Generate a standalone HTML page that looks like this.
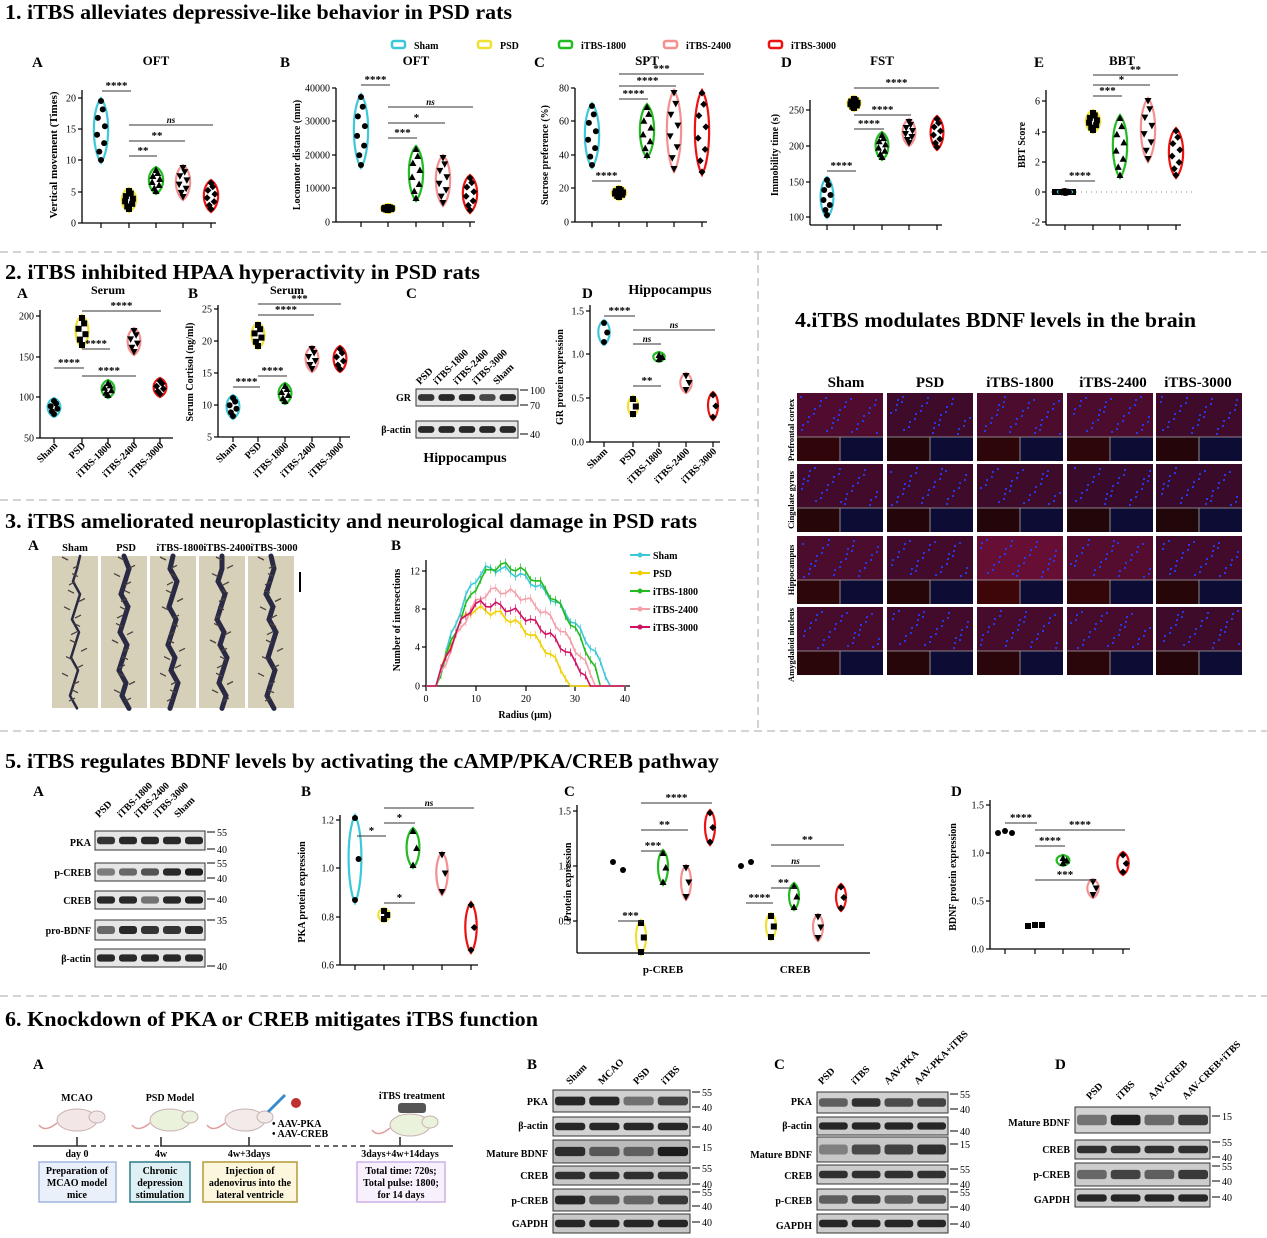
<!DOCTYPE html>
<html><head><meta charset="utf-8">
<style>
html,body{margin:0;padding:0;background:#fff;}
svg{display:block;font-family:"Liberation Serif",serif;}
.h{font-weight:bold;font-size:21.5px;}
.L{font-weight:bold;font-size:15px;}
.t{font-weight:bold;font-size:13px;}
.s{font-size:10px;font-weight:bold;}
.tk{font-size:10px;}
</style></head>
<body>
<svg id="s" xmlns="http://www.w3.org/2000/svg" width="1267" height="1238" viewBox="0 0 1267 1238">
<rect width="1267" height="1238" fill="#fff"/>
<g stroke="#bbb" stroke-width="1.3" stroke-dasharray="8,5" fill="none">
<line x1="0" y1="252" x2="1267" y2="252"/>
<line x1="0" y1="500" x2="758" y2="500"/>
<line x1="758" y1="252" x2="758" y2="730"/>
<line x1="0" y1="731" x2="1267" y2="731"/>
<line x1="0" y1="996" x2="1267" y2="996"/>
</g>
<text class="h" x="5" y="19" textLength="507" lengthAdjust="spacingAndGlyphs">1. iTBS alleviates depressive-like behavior in PSD rats</text>
<text class="h" x="5" y="279" textLength="475" lengthAdjust="spacingAndGlyphs">2.  iTBS inhibited HPAA hyperactivity in PSD rats</text>
<text class="h" x="5" y="528" textLength="692" lengthAdjust="spacingAndGlyphs">3.  iTBS ameliorated neuroplasticity and neurological damage in PSD rats</text>
<text class="h" x="795" y="327" textLength="401" lengthAdjust="spacingAndGlyphs">4.iTBS modulates BDNF levels in the brain</text>
<text class="h" x="5" y="768" textLength="714" lengthAdjust="spacingAndGlyphs">5. iTBS regulates BDNF levels by activating the cAMP/PKA/CREB pathway</text>
<text class="h" x="5" y="1026" textLength="533" lengthAdjust="spacingAndGlyphs">6. Knockdown of PKA or CREB mitigates iTBS function</text>

<g class="s">
<rect x="392" y="41" width="13" height="7" rx="2" fill="none" stroke="#3cc8d8" stroke-width="2.5"/><text x="414" y="49">Sham</text>
<rect x="478" y="41" width="13" height="7" rx="2" fill="none" stroke="#f0e030" stroke-width="2.5"/><text x="500" y="49">PSD</text>
<rect x="559" y="41" width="13" height="7" rx="2" fill="none" stroke="#22bb22" stroke-width="2.5"/><text x="581" y="49">iTBS-1800</text>
<rect x="664" y="41" width="13" height="7" rx="2" fill="none" stroke="#f49090" stroke-width="2.5"/><text x="686" y="49">iTBS-2400</text>
<rect x="769" y="41" width="13" height="7" rx="2" fill="none" stroke="#ee1111" stroke-width="2.5"/><text x="791" y="49">iTBS-3000</text>
</g>
<g class="L">
<text x="32" y="67">A</text><text x="280" y="67">B</text><text x="534" y="67">C</text><text x="781" y="67">D</text><text x="1034" y="67">E</text>
<text x="17" y="298">A</text><text x="188" y="298">B</text><text x="406" y="298">C</text><text x="582" y="298">D</text>
<text x="28" y="550">A</text><text x="391" y="550">B</text>
<text x="33" y="796">A</text><text x="301" y="796">B</text><text x="564" y="796">C</text><text x="951" y="796">D</text>
<text x="33" y="1069">A</text><text x="527" y="1069">B</text><text x="774" y="1069">C</text><text x="1055" y="1069">D</text>
</g>
<g class="t" text-anchor="middle">
<text x="156" y="65">OFT</text><text x="416" y="65">OFT</text><text x="647" y="65">SPT</text><text x="882" y="65">FST</text><text x="1122" y="65">BBT</text>
<text x="108" y="294" style="font-size:12px">Serum</text><text x="287" y="294" style="font-size:12px">Serum</text>
<text x="670" y="294" style="font-size:14px">Hippocampus</text>
<text x="465" y="462" style="font-size:14px">Hippocampus</text>
<text x="525" y="718" style="font-size:10px">Radius (μm)</text>
</g>
<g class="t" text-anchor="middle" font-size="11">
<text transform="translate(57,155) rotate(-90)" style="font-size:11px">Vertical movement (Times)</text>
<text transform="translate(300,155) rotate(-90)" style="font-size:10px">Locomotor distance (mm)</text>
<text transform="translate(548,155) rotate(-90)" style="font-size:10px">Sucrose preference (%)</text>
<text transform="translate(778,155) rotate(-90)" style="font-size:10px">Immobility time (s)</text>
<text transform="translate(1025,145) rotate(-90)" style="font-size:10px">BBT Score</text>
<text transform="translate(193,372) rotate(-90)" style="font-size:10px">Serum Cortisol (ng/ml)</text>
<text transform="translate(563,377) rotate(-90)" style="font-size:10px">GR protein expression</text>
<text transform="translate(400,620) rotate(-90)" style="font-size:10px">Number of intersections</text>
<text transform="translate(305,892) rotate(-90)" style="font-size:10px">PKA protein expression</text>
<text transform="translate(571,882) rotate(-90)" style="font-size:10px">Protein expression</text>
<text transform="translate(956,877) rotate(-90)" style="font-size:10px">BDNF protein expression</text>
<text x="663" y="973" style="font-size:11px">p-CREB</text><text x="795" y="973" style="font-size:11px">CREB</text>
</g>
<g class="s" font-size="10">
<text x="653" y="559">Sham</text><text x="653" y="577">PSD</text><text x="653" y="595">iTBS-1800</text><text x="653" y="613">iTBS-2400</text><text x="653" y="631">iTBS-3000</text>
</g>
<g text-anchor="middle" font-weight="bold" font-size="10" style="font-size:10.5px">
<text x="75" y="551">Sham</text><text x="126" y="551">PSD</text><text x="180" y="551">iTBS-1800</text><text x="227" y="551">iTBS-2400</text><text x="274" y="551">iTBS-3000</text>
</g>
<g class="t" text-anchor="middle" style="font-size:15px">
<text x="846" y="387">Sham</text><text x="930" y="387">PSD</text><text x="1020" y="387">iTBS-1800</text><text x="1113" y="387">iTBS-2400</text><text x="1198" y="387">iTBS-3000</text>
</g>
<g font-weight="bold" text-anchor="middle" font-size="8.5">
<text transform="translate(794,430) rotate(-90)">Prefrontal cortex</text>
<text transform="translate(794,500) rotate(-90)">Cingulate gyrus</text>
<text transform="translate(794,570) rotate(-90)">Hippocampus</text>
<text transform="translate(794,645) rotate(-90)">Amygdaloid nucleus</text>
</g>
<g stroke="#333" stroke-width="1.6">
<line x1="33" y1="1146" x2="82" y2="1146"/><line x1="82" y1="1146" x2="160" y2="1146" stroke-dasharray="5,4"/>
<line x1="160" y1="1146" x2="306" y2="1146"/><line x1="306" y1="1146" x2="370" y2="1146" stroke-dasharray="5,4"/>
<line x1="370" y1="1146" x2="453" y2="1146"/>
<line x1="77" y1="1137" x2="77" y2="1146"/><line x1="161" y1="1137" x2="161" y2="1146"/><line x1="249" y1="1137" x2="249" y2="1146"/><line x1="400" y1="1137" x2="400" y2="1146"/>
</g>
<rect x="39" y="1162" width="77" height="40" fill="#eaf0fa" stroke="#9fb6e0" stroke-width="1.5"/>
<rect x="130" y="1162" width="60" height="40" fill="#dff0f4" stroke="#2b7e8a" stroke-width="1.5"/>
<rect x="203" y="1162" width="94" height="40" fill="#fbf6dc" stroke="#b49a3a" stroke-width="1.5"/>
<rect x="357" y="1162" width="88" height="40" fill="#f8f0fc" stroke="#cdb0e6" stroke-width="1.5"/>
<g class="s" text-anchor="middle" font-size="10">
<text x="77" y="1101">MCAO</text><text x="170" y="1101">PSD Model</text><text x="412" y="1099">iTBS treatment</text>
<text x="77" y="1157">day 0</text><text x="161" y="1157">4w</text><text x="249" y="1157">4w+3days</text><text x="400" y="1157">3days+4w+14days</text>
<text x="77" y="1174">Preparation of</text><text x="77" y="1186">MCAO model</text><text x="77" y="1198">mice</text>
<text x="160" y="1174">Chronic</text><text x="160" y="1186">depression</text><text x="160" y="1198">stimulation</text>
<text x="250" y="1174">Injection of</text><text x="250" y="1186">adenovirus into the</text><text x="250" y="1198">lateral ventricle</text>
<text x="401" y="1174">Total time: 720s;</text><text x="401" y="1186">Total pulse: 1800;</text><text x="401" y="1198">for 14 days</text>
<text x="272" y="1127" text-anchor="start">•  AAV-PKA</text><text x="272" y="1137" text-anchor="start">•  AAV-CREB</text>
</g>
<g id="dyn"></g>
</svg>
<script>
const ns="http://www.w3.org/2000/svg",G=document.getElementById('dyn');
function el(t,a,txt){const e=document.createElementNS(ns,t);for(const k in a)e.setAttribute(k,a[k]);if(txt!==undefined)e.textContent=txt;G.appendChild(e);return e;}
const C={sham:"#3cc8d8",psd:"#f0e030",a:"#22bb22",b:"#f49090",c:"#ee1111"};
const cols=[C.sham,C.psd,C.a,C.b,C.c];
function axis(x,yT,yB,ticks,xEnd,xt,bottom){
  el('line',{x1:x,y1:yT,x2:x,y2:bottom||yB,stroke:"#000","stroke-width":1.3});
  ticks.forEach(([y,l])=>{el('line',{x1:x-4,y1:y,x2:x,y2:y,stroke:"#000","stroke-width":1.2});
    el('text',{x:x-6,y:y+3.5,"text-anchor":"end","font-size":10},l);});
  const yb=bottom||yB;
  el('line',{x1:x,y1:yb,x2:xEnd,y2:yb,stroke:"#000","stroke-width":1.3});
  xt.forEach(t=>el('line',{x1:t,y1:yb,x2:t,y2:yb+5,stroke:"#000","stroke-width":1.2}));
}
function violin(cx,y1,y2,w,c,mk,n){
  const h=y2-y1;
  el('path',{d:`M${cx},${y1} C${cx+w},${y1+h*0.2} ${cx+w*0.9},${y1+h*0.8} ${cx},${y2} C${cx-w*0.9},${y1+h*0.8} ${cx-w},${y1+h*0.2} ${cx},${y1}Z`,fill:"none",stroke:c,"stroke-width":2.2});
  n=n||8;
  for(let i=0;i<n;i++){const y=y1+3+(h-6)*i/(n-1);const dx=(i%2?1:-1)*w*0.4*Math.sin(Math.PI*i/(n-1));
    mark(cx+dx,y,mk);}
}
function mark(x,y,mk){
  if(mk==0) el('circle',{cx:x,cy:y,r:3,fill:"#000"});
  else if(mk==1) el('rect',{x:x-3,y:y-3,width:6,height:6,fill:"#000"});
  else if(mk==2) el('path',{d:`M${x},${y-3.5} L${x+3.5},${y+3} L${x-3.5},${y+3}Z`,fill:"#000"});
  else if(mk==3) el('path',{d:`M${x},${y+3.5} L${x+3.5},${y-3} L${x-3.5},${y-3}Z`,fill:"#000"});
  else el('path',{d:`M${x},${y-3.5} L${x+3.5},${y} L${x},${y+3.5} L${x-3.5},${y}Z`,fill:"#000"});
}
function sig(x1,x2,y,t){el('line',{x1,y1:y,x2,y2:y,stroke:"#333","stroke-width":1});
  el('text',{x:(x1+x2)/2,y:y-2,"text-anchor":"middle","font-size":t=="ns"?9:11,"font-style":t=="ns"?"italic":"normal","font-weight":"bold"},t);}
function vset(xs,spans,w,n){spans.forEach((s,i)=>violin(xs[i],s[0],s[1],w,cols[i],i,n));}

let xs=[101,129,156,183,211];
axis(82,98,223,[[223,"0"],[192,"5"],[160,"10"],[129,"15"],[98,"20"]],216,xs);
el('line',{x1:82,y1:90,x2:82,y2:98,stroke:"#000","stroke-width":1.3});
vset(xs,[[98,163],[188,212],[167,194],[165,200],[180,212]],10);
sig(102,131,91,"****");sig(129,213,125,"ns");sig(129,185,141,"**");sig(129,157,156,"**");
xs=[361,388,416,443,470];
axis(336,88,222,[[222,"0"],[188,"10000"],[155,"20000"],[121,"30000"],[88,"40000"]],475,xs);
vset(xs,[[94,168],[204,213],[146,201],[155,206],[175,213]],10);
sig(361,390,85,"****");sig(388,473,107,"ns");sig(388,445,123,"*");sig(388,417,138,"***");
xs=[592,619,647,674,702];
axis(575,88,222,[[222,"0"],[188,"20"],[155,"40"],[121,"60"],[88,"80"]],707,xs);
vset(xs,[[103,168],[186,200],[104,158],[90,172],[90,175]],10);
sig(592,621,181,"****");sig(619,648,99,"****");sig(619,676,86,"****");sig(619,704,74,"***");
xs=[827,854,882,909,937];
axis(810,100,225,[[217,"100"],[182,"150"],[146,"200"],[110,"250"]],942,xs);
vset(xs,[[177,218],[96,111],[132,160],[119,146],[116,150]],9);
sig(827,856,171,"****");sig(854,884,129,"****");sig(854,911,115,"****");sig(854,939,88,"****");
xs=[1065,1093,1120,1148,1176];
axis(1046,90,225,[[222,"-2"],[192,"0"],[162,"2"],[132,"4"],[101,"6"]],1181,xs);
el('line',{x1:1046,y1:192,x2:1195,y2:192,stroke:"#888","stroke-dasharray":"1,4"});
el('rect',{x:1052,y:189,width:24,height:6,fill:"#000"});
vset(xs,[[190,194],[110,133],[115,178],[98,162],[128,178]],10);
sig(1065,1095,181,"****");sig(1093,1122,96,"***");sig(1093,1150,85,"*");sig(1093,1178,75,"**");

xs=[54,82,108,134,160];
axis(40,310,438,[[316,"200"],[357,"150"],[397,"100"],[438,"50"]],173,xs);
vset(xs,[[398,417],[315,348],[380,398],[328,355],[378,397]],9,6);
sig(54,84,368,"****");sig(82,110,349,"****");sig(82,136,376,"****");sig(82,161,311,"****");
xs=[233,258,285,312,340];
axis(218,305,437,[[309,"25"],[341,"20"],[373,"15"],[405,"10"],[437,"5"]],350,xs);
vset(xs,[[395,419],[322,349],[383,404],[346,372],[346,372]],9,6);
sig(233,260,387,"****");sig(258,287,376,"****");sig(258,314,315,"****");sig(258,341,304,"***");
[[[54,82,108,134,160],446],[[233,258,285,312,340],446],[[604,633,659,686,713],452]].forEach(([a,y])=>{
 ["Sham","PSD","iTBS-1800","iTBS-2400","iTBS-3000"].forEach((l,i)=>el('text',{transform:`translate(${a[i]+4},${y}) rotate(-45)`,"text-anchor":"end","font-size":10,"font-weight":"bold"},l));});
xs=[604,633,659,686,713];
axis(590,305,442,[[311,"1.5"],[354,"1.0"],[398,"0.5"],[442,"0.0"]],720,xs);
violin(604,320,345,8,C.sham,0,3);violin(633,396,417,7,C.psd,1,3);violin(659,352,362,8,C.a,2,3);violin(686,373,393,8,C.b,3,3);violin(713,392,420,7,C.c,4,3);
sig(604,635,316,"****");sig(633,661,344,"ns");sig(633,715,330,"ns");sig(633,661,386,"**");

function blot(x,y,w,h,n,ints,bg){
  el('rect',{x,y,width:w,height:h,fill:bg||"#e6e6e6",stroke:"#333","stroke-width":1});
  const bw=w/n;
  for(let i=0;i<n;i++){const v=ints[i%ints.length];
   el('rect',{x:x+bw*i+2,y:y+h*0.3,width:bw-4,height:h*0.4,rx:3,fill:`rgba(20,20,20,${v})`});}
}
function lbls(x,arr){arr.forEach(([y,t])=>el('text',{x,y,"text-anchor":"end","font-size":10,"font-weight":"bold"},t));}
function mks(x,arr){arr.forEach(([y,t])=>{el('line',{x1:x,y1:y,x2:x+8,y2:y,stroke:"#000"});el('text',{x:x+10,y:y+4,"font-size":10},t);});}
function colL(xs,y,arr){arr.forEach((t,i)=>el('text',{transform:`translate(${xs[i]},${y}) rotate(-45)`,"font-size":10,"font-weight":"bold"},t));}
colL([420,437,457,476,497],385,["PSD","iTBS-1800","iTBS-2400","iTBS-3000","Sham"]);
blot(416,389,102,17,5,[0.85,0.9,0.9,0.75,0.9]);blot(416,421,102,17,5,[0.9]);
lbls(411,[[401,"GR"],[433,"β-actin"]]);mks(520,[[390,"100"],[405,"70"],[434,"40"]]);

[52,101,150,199,248].forEach((x,i)=>{
 el('rect',{x,y:556,width:46,height:152,fill:"#d6d0b8"});
 let d=`M${x+23+(i==0?5:0)},556`;for(let k=1;k<=12;k++)d+=` L${x+18+((k*7+i*3)%11)},${556+k*12.7}`;
 el('path',{d,stroke:"#2a2a44","stroke-width":i==0?2.5:5,fill:"none","stroke-linecap":"round"});
 for(let k=0;k<18;k++){const yy=560+k*8.3,xx=x+16+((k*5+i*7)%14);el('line',{x1:xx,y1:yy,x2:xx+(k%2?6:-6),y2:yy-3,stroke:"#4a4040","stroke-width":1.3});}
});
el('line',{x1:300,y1:572,x2:300,y2:592,stroke:"#000","stroke-width":2});
axis(426,560,686,[[686,"0"],[647,"4"],[609,"8"],[571,"12"]],630,[426,476,526,575,625]);
[[426,"0"],[476,"10"],[526,"20"],[575,"30"],[625,"40"]].forEach(([x,t])=>el('text',{x,y:702,"text-anchor":"middle","font-size":10},t));
const curves=[[C.sham,12.3,13,37],["#f0d000",8,10,29],[C.a,12.6,15,35],["#f4a0a8",10,14,34],["#d01060",8.6,11,33]];
curves.forEach(([c,pk,pr,end])=>{let d="";
 for(let r=0;r<=40;r+=1){let v;if(r<2)v=0;else if(r<=pr)v=pk*Math.sin((r-2)/(pr-2)*Math.PI/2);else if(r<end)v=pk*Math.pow(Math.cos((r-pr)/(end-pr)*Math.PI/2),0.8);else v=0;
  v+=(r>2&&r<end)?0.4*Math.sin(r*1.7+pk):0;if(v<0)v=0;
  const X=426+r*4.98,Y=686-v*9.55;d+=(d?" L":"M")+X+","+Y;
  if(v>0) el('line',{x1:X,y1:Y-4,x2:X,y2:Y+4,stroke:c,"stroke-width":0.7});}
 el('path',{d,fill:"none",stroke:c,"stroke-width":1.6});});
curves.forEach(([c],i)=>{el('line',{x1:630,y1:555+i*18,x2:650,y2:555+i*18,stroke:c,"stroke-width":2});el('circle',{cx:640,cy:555+i*18,r:2.5,fill:c});});

const cx4=[797,887,977,1067,1156],ry4=[393,464,536,607];
const tint=[[0.55,0.35,0.5,0.5,0.35],[0.4,0.35,0.35,0.3,0.3],[0.5,0.4,0.8,0.6,0.4],[0.45,0.4,0.45,0.45,0.35]];
ry4.forEach((y,r)=>cx4.forEach((x,c)=>{
 const t=tint[r][c];
 el('rect',{x,y,width:86,height:68,fill:`rgb(${Math.round(30+t*90)},${Math.round(8+t*8)},${Math.round(35+t*20)})`});
 el('rect',{x,y:y+44,width:43,height:24,fill:`rgb(${Math.round(15+t*60)},6,10)`});
 el('rect',{x:x+43,y:y+44,width:43,height:24,fill:"#0c0c34"});
 el('line',{x1:x,y1:y+44,x2:x+86,y2:y+44,stroke:"#aaa","stroke-width":0.8});
 el('line',{x1:x+43,y1:y+44,x2:x+43,y2:y+68,stroke:"#aaa","stroke-width":0.8});
 for(let k=0;k<30;k++){el('rect',{x:x+3+((k*37+c*11+r*7)%80),y:y+3+((k*23+r*13+c*5)%38),width:2,height:2,fill:"#2838e0"});}
}));

colL([99,121,138,157,178],818,["PSD","iTBS-1800","iTBS-2400","iTBS-3000","Sham"]);
blot(95,831,110,19,5,[0.85,0.9,0.9,0.9,0.9]);blot(95,863,110,18,5,[0.5,0.6,0.7,0.9,0.95]);
blot(95,891,110,18,5,[0.9,0.9,0.55,0.9,0.95]);blot(95,920,110,20,5,[0.6,0.9,0.85,0.85,0.9]);blot(95,949,110,18,5,[0.9]);
lbls(91,[[846,"PKA"],[876,"p-CREB"],[904,"CREB"],[934,"pro-BDNF"],[962,"β-actin"]]);
mks(207,[[832,"55"],[849,"40"],[863,"55"],[878,"40"],[899,"40"],[920,"35"],[966,"40"]]);
xs=[355,384,413,442,471];
axis(340,815,965,[[820,"1.2"],[868,"1.0"],[917,"0.8"],[965,"0.6"]],478,xs);
violin(355,815,903,9,C.sham,0,3);violin(384,908,922,8,C.psd,1,3);violin(413,828,868,9,C.a,2,3);violin(442,852,895,8,C.b,3,3);violin(471,902,953,8,C.c,4,3);
sig(357,386,836,"*");sig(384,415,823,"*");sig(384,415,903,"*");sig(384,474,808,"ns");
axis(577,805,953,[[811,"1.5"],[866,"1.0"],[921,"0.5"]],870,[]);
[[618,866,0],[641,935,1],[663,865,2],[686,880,3],[710,825,4]].forEach(([x,y,i])=>{ if(i==0){mark(x-5,y-4,0);mark(x+5,y+4,0);} else violin(x,y-15,y+20,7,cols[i],i,3);});
[[746,866,0],[771,925,1],[794,895,2],[818,926,3],[841,896,4]].forEach(([x,y,i])=>{ if(i==0){mark(x-5,y,0);mark(x+5,y-4,0);} else violin(x,y-12,y+15,7,cols[i],i,3);});
sig(618,643,921,"***");sig(641,665,851,"***");sig(641,688,830,"**");sig(641,712,803,"****");
sig(746,773,903,"****");sig(771,796,888,"**");sig(771,820,866,"ns");sig(771,844,845,"**");
xs=[1005,1035,1063,1093,1123];
axis(990,800,949,[[805,"1.5"],[853,"1.0"],[901,"0.5"],[949,"0.0"]],1130,xs);
mark(998,833,0);mark(1005,831,0);mark(1012,833,0);
mark(1028,926,1);mark(1035,925,1);mark(1042,925,1);
violin(1063,855,866,9,C.a,2,3);violin(1093,879,898,8,C.b,3,3);violin(1123,852,875,8,C.c,4,3);
sig(1005,1037,823,"****");sig(1035,1065,846,"****");sig(1035,1125,830,"****");sig(1035,1095,880,"***");

colL([570,602,637,665],1085,["Sham","MCAO","PSD","iTBS"]);
blot(553,1090,137,22,4,[0.9,0.9,0.5,0.75],"#cfcfcf");blot(553,1117,137,19,4,[0.9],"#d2d2d2");
blot(553,1140,137,23,4,[0.85,0.6,0.55,0.95],"#bbb");blot(553,1166,137,19,4,[0.85],"#c8c8c8");
blot(553,1189,137,22,4,[0.9,0.6,0.55,0.8],"#c8c8c8");blot(553,1214,137,19,4,[0.9],"#c8c8c8");
lbls(548,[[1105,"PKA"],[1129,"β-actin"],[1157,"Mature BDNF"],[1179,"CREB"],[1204,"p-CREB"],[1227,"GAPDH"]]);
mks(692,[[1092,"55"],[1107,"40"],[1127,"40"],[1147,"15"],[1168,"55"],[1184,"40"],[1192,"55"],[1206,"40"],[1222,"40"]]);
colL([822,855,888,918],1085,["PSD","iTBS","AAV-PKA","AAV-PKA+iTBS"]);
blot(817,1092,131,21,4,[0.6,0.85,0.7,0.75],"#d0d0d0");blot(817,1117,131,18,4,[0.9],"#ccc");
blot(817,1137,131,25,4,[0.4,0.7,0.75,0.85],"#c8c8c8");blot(817,1165,131,19,4,[0.85],"#ccc");
blot(817,1189,131,21,4,[0.6,0.75,0.6,0.7],"#cfcfcf");blot(817,1214,131,19,4,[0.9],"#ccc");
lbls(812,[[1105,"PKA"],[1129,"β-actin"],[1158,"Mature BDNF"],[1179,"CREB"],[1204,"p-CREB"],[1229,"GAPDH"]]);
mks(950,[[1094,"55"],[1109,"40"],[1131,"40"],[1144,"15"],[1169,"55"],[1184,"40"],[1192,"55"],[1207,"40"],[1224,"40"]]);
colL([1090,1120,1152,1186],1100,["PSD","iTBS","AAV-CREB","AAV-CREB+iTBS"]);
blot(1075,1107,135,26,4,[0.5,0.95,0.55,0.8],"#d2d2d2");blot(1075,1140,135,19,4,[0.85],"#ccc");
blot(1075,1163,135,23,4,[0.55,0.75,0.6,0.8],"#ccc");blot(1075,1189,135,18,4,[0.9],"#ccc");
lbls(1070,[[1126,"Mature BDNF"],[1153,"CREB"],[1178,"p-CREB"],[1203,"GAPDH"]]);
mks(1212,[[1116,"15"],[1142,"55"],[1157,"40"],[1166,"55"],[1181,"40"],[1197,"40"]]);
[[77,1120,"#f3e6e6"],[170,1120,"#eaf2dc"],[245,1120,"#f3eaea"],[410,1125,"#eaf2dc"]].forEach(([x,y,c])=>{
 el('ellipse',{cx:x,cy:y,rx:20,ry:11,fill:c,stroke:"#c8b0b0"});el('ellipse',{cx:x+20,cy:y-3,rx:8,ry:6,fill:c,stroke:"#c8b0b0"});
 el('path',{d:`M${x-20},${y+3} q-12,10 -18,2`,stroke:"#e0a0a0",fill:"none","stroke-width":1.5});});
el('rect',{x:398,y:1103,width:28,height:10,rx:3,fill:"#555"});
el('circle',{cx:296,cy:1103,r:5,fill:"#c03030"});
el('line',{x1:268,y1:1112,x2:285,y2:1095,stroke:"#3a8ad0","stroke-width":3});
</script>
</body></html>
